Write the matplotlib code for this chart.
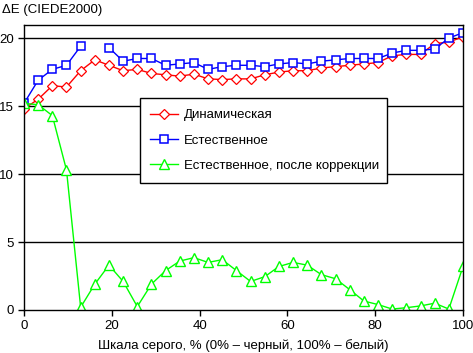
import numpy as np
import matplotlib.pyplot as plt

plt.rcParams['font.family'] = ['Liberation Sans', 'DejaVu Sans']

# gray scale, % (32 steps)
x = np.linspace(0, 100, 32)

dynamic = [14.8, 15.5, 16.5, 16.4, 17.6, 18.4, 18.0, 17.6, 17.7, 17.4, 17.3, 17.2, 17.35, 17.0, 16.95, 17.0,
           17.0, 17.3, 17.5, 17.6, 17.6, 17.8, 17.9, 18.0, 18.1, 18.2, 18.7, 18.8, 18.8, 19.6, 19.7, 20.1]
natural = [15.2, 16.9, 17.7, 18.0, 19.4, np.nan, 19.3, 18.3, 18.5, 18.5, 18.0, 18.1, 18.2, 17.7, 17.9, 18.0,
           18.0, 17.9, 18.1, 18.2, 18.1, 18.3, 18.4, 18.5, 18.5, 18.5, 18.9, 19.1, 19.1, 19.2, 20.0, 20.4]
corrected = [15.2, 15.1, 14.3, 10.3, 0.2, 1.9, 3.3, 2.1, 0.25, 1.9, 2.9, 3.6, 3.85, 3.5, 3.7, 2.9,
             2.1, 2.45, 3.2, 3.5, 3.3, 2.6, 2.3, 1.5, 0.66, 0.4, 0.07, 0.17, 0.3, 0.5, 0.07, 3.2]

labels = ["Динамическая", "Естественное", "Естественное, после коррекции"]

fig = plt.figure(figsize=(4.73, 3.53), dpi=100)
ax = fig.add_axes([24 / 473, 1 - 310 / 353, 439 / 473, 285.5 / 353])

ax.plot(x, dynamic, color='#ff0000', lw=1, marker='D', ms=5, mfc='white', mec='#ff0000', mew=0.9,
        label=labels[0])
ax.plot(x, natural, color='#0000ff', lw=1, marker='s', ms=6, mfc='white', mec='#0000ff', mew=1.1,
        label=labels[1])
ax.plot(x, corrected, color='#00ff00', lw=1, marker='^', ms=6.5, mfc='white', mec='#00ff00', mew=1,
        label=labels[2])

ax.set_xlim(0, 100)
ax.set_ylim(0, 21)
ax.set_xticks(np.arange(0, 101, 20))
ax.set_yticks(np.arange(0, 21, 5))
for v in [5, 10, 15, 20]:
    ax.axhline(v, color='black', lw=1, zorder=0)
for s in ax.spines.values():
    s.set_color('black')
    s.set_linewidth(1)
ax.tick_params(direction='out', length=4, width=1, labelsize=9.5, colors='black', pad=3)

ax.set_xlabel("Шкала серого, % (0% – черный, 100% – белый)", fontsize=9.5, labelpad=5)
fig.text(2 / 473, 1 - 10 / 353, "ΔE (CIEDE2000)", fontsize=9.5, va='center', ha='left')

leg = ax.legend(loc='upper left', bbox_to_anchor=(0.264, 0.741, 0.562, 0.0), mode='expand',
                fontsize=9.5, frameon=True, fancybox=False, edgecolor='black', framealpha=1,
                borderpad=0.8, labelspacing=1.0, handlelength=2.1, handletextpad=0.45,
                borderaxespad=0)
leg.get_frame().set_linewidth(1)

fig.savefig("out.png", dpi=100)
